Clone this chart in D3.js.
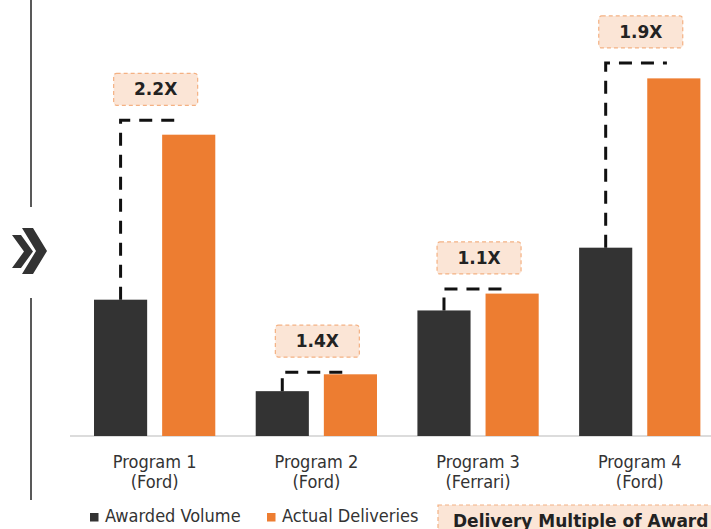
<!DOCTYPE html>
<html>
<head>
<meta charset="utf-8">
<script src="https://cdn.jsdelivr.net/npm/d3@7.9.0/dist/d3.min.js"></script>
<style>
  html, body { margin: 0; padding: 0; background: #fff; }
  svg { display: block; }
</style>
</head>
<body>
<svg width="711" height="529"></svg>
<script>
// chart data
const programs = ['Program 1', 'Program 2', 'Program 3', 'Program 4'];
const customers = ['(Ford)', '(Ford)', '(Ferrari)', '(Ford)'];
const awarded = [38, 12.5, 35, 52.5];
const delivered = [84, 17.2, 39.7, 99.7];
const multiples = ['2.2X', '1.4X', '1.1X', '1.9X'];
// height of the dashed bracket above each pair, same units as the bars
const bracketLevel = [88, 17.8, 41, 104];
const seriesNames = ['Awarded Volume', 'Actual Deliveries'];

const colors = ['#333333', '#ed7d31'];
const boxFill = '#fbe5d6';
const boxStroke = '#f4b183';

const svg = d3.select('svg');

// scales
const x0 = d3.scaleBand()
  .domain(programs)
  .range([73.8, 720.6])
  .paddingInner(0.25)
  .paddingOuter(0.125);

const x1 = d3.scaleBand()
  .domain([0, 1])
  .range([0, x0.bandwidth()])
  .paddingInner(0.22);

const y = d3.scaleLinear().domain([0, 100]).range([436, 77.3]);

// left divider with chevron
svg.append('line')
  .attr('x1', 31).attr('x2', 31).attr('y1', 0).attr('y2', 207)
  .attr('stroke', '#222').attr('stroke-width', 1.5);
svg.append('line')
  .attr('x1', 31).attr('x2', 31).attr('y1', 298).attr('y2', 500)
  .attr('stroke', '#222').attr('stroke-width', 1.5);
svg.append('path')
  .attr('d', 'M12,235 L21,235 L33,251.5 L21,268 L12,268 L24,251.5 Z')
  .attr('fill', '#333');
svg.append('path')
  .attr('d', 'M22,228 L33,228 L47,251 L33,274 L22,274 L36,251 Z')
  .attr('fill', '#333');

// baseline
svg.append('line')
  .attr('x1', 70).attr('x2', 711)
  .attr('y1', y(0)).attr('y2', y(0))
  .attr('stroke', '#d0d0d0').attr('stroke-width', 1.5);

// bars
const groups = svg.selectAll('g.group')
  .data(programs)
  .join('g')
  .attr('class', 'group')
  .attr('transform', d => `translate(${x0(d)},0)`);

groups.each(function (p, i) {
  const g = d3.select(this);
  [awarded[i], delivered[i]].forEach((v, s) => {
    g.append('rect')
      .attr('x', x1(s))
      .attr('y', y(v))
      .attr('width', x1.bandwidth())
      .attr('height', y(0) - y(v))
      .attr('fill', colors[s]);
  });

  // dashed bracket from the awarded bar up and over toward the delivered bar
  const cx = x1(0) + x1.bandwidth() / 2;
  const endX = x1(1) + x1.bandwidth() * 0.37;
  const by = y(bracketLevel[i]);
  g.append('path')
    .attr('d', `M${cx},${y(awarded[i])} V${by} H${endX}`)
    .attr('fill', 'none')
    .attr('stroke', '#111')
    .attr('stroke-width', 3)
    .attr('stroke-dasharray', '13,9');

  // multiple label box
  const bw = 84, bh = 32;
  const mid = x0.bandwidth() / 2 + 1;
  g.append('rect')
    .attr('x', mid - bw / 2)
    .attr('y', by - 15 - bh)
    .attr('width', bw)
    .attr('height', bh)
    .attr('rx', 3)
    .attr('fill', boxFill)
    .attr('stroke', boxStroke)
    .attr('stroke-width', 1.2)
    .attr('stroke-dasharray', '4,3');
  g.append('text')
    .attr('x', mid)
    .attr('y', by - 15 - bh / 2 + 6)
    .attr('text-anchor', 'middle')
    .attr('font-family', 'DejaVu Sans')
    .attr('font-weight', 'bold')
    .attr('font-size', 17)
    .attr('fill', '#222')
    .text(multiples[i]);

  // category labels
  const lbl = g.append('text')
    .attr('text-anchor', 'middle')
    .attr('font-family', 'DejaVu Sans Condensed')
    .attr('font-size', 18)
    .attr('fill', '#333');
  lbl.append('tspan').attr('x', x0.bandwidth() / 2).attr('y', 468).text(p);
  lbl.append('tspan').attr('x', x0.bandwidth() / 2).attr('y', 488).text(customers[i]);
});

// legend
const legendX = [90, 267];
seriesNames.forEach((name, s) => {
  svg.append('rect')
    .attr('x', legendX[s]).attr('y', 513)
    .attr('width', 8.5).attr('height', 8.5)
    .attr('fill', colors[s]);
  svg.append('text')
    .attr('x', legendX[s] + 15).attr('y', 522)
    .attr('font-family', 'DejaVu Sans Condensed')
    .attr('font-size', 18)
    .attr('fill', '#333')
    .text(name);
});

svg.append('rect')
  .attr('x', 438).attr('y', 505)
  .attr('width', 290).attr('height', 40)
  .attr('fill', boxFill)
  .attr('stroke', boxStroke)
  .attr('stroke-width', 1.2)
  .attr('stroke-dasharray', '4,3');
svg.append('text')
  .attr('x', 453).attr('y', 527)
  .attr('font-family', 'DejaVu Sans')
  .attr('font-weight', 'bold')
  .attr('font-size', 17)
  .attr('fill', '#222')
  .text('Delivery Multiple of Award');
</script>
</body>
</html>
